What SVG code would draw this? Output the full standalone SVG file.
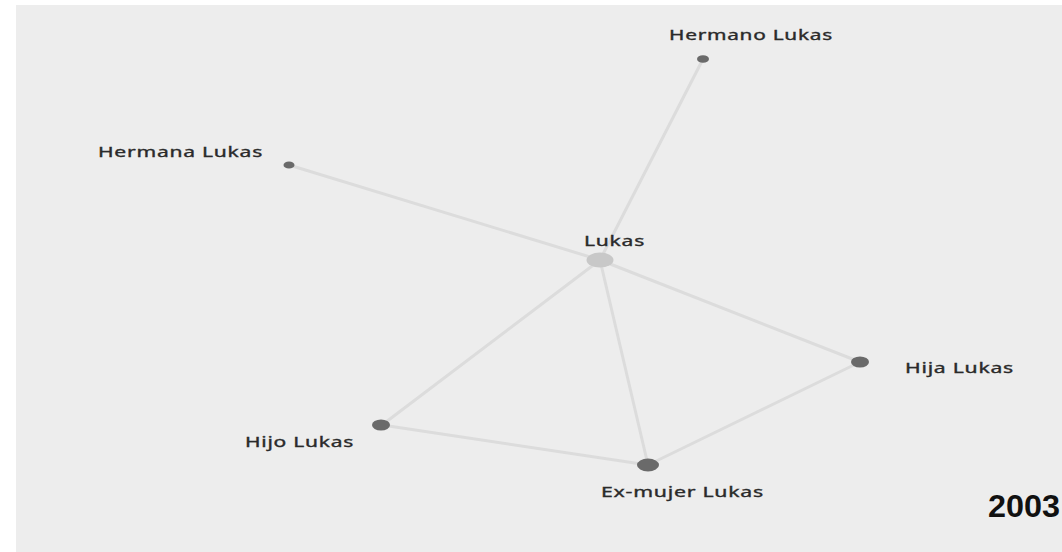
<svg xmlns="http://www.w3.org/2000/svg" width="1062" height="552" viewBox="0 0 1062 552">
<style>
.lbl{font-family:"Noto Sans","DejaVu Sans",sans-serif;font-size:14px;fill:#2a2a2a;stroke:#2a2a2a;stroke-width:0.35;letter-spacing:0.5px}
.edge{stroke:#dcdcdc;stroke-width:3;fill:none;stroke-linecap:round}
.n{fill:#6a6a6a}
.c{fill:#c8c8c8}
</style>
<rect x="0" y="0" width="1062" height="552" fill="#ffffff"/>
<rect x="16" y="5" width="1046" height="547" fill="#ededed"/>
<g id="connectors">
<line class="edge" x1="600" y1="260" x2="703" y2="59"/>
<line class="edge" x1="600" y1="260" x2="289" y2="165"/>
<line class="edge" x1="600" y1="260" x2="860" y2="362"/>
<line class="edge" x1="600" y1="260" x2="382" y2="425"/>
<line class="edge" x1="600" y1="260" x2="648" y2="465"/>
<line class="edge" x1="382" y1="425" x2="648" y2="465"/>
<line class="edge" x1="648" y1="465" x2="860" y2="362"/>
</g>
<g id="node-hermano">
<ellipse class="n" cx="703" cy="59" rx="6" ry="3.8"/>
<text class="lbl" x="669" y="40" textLength="164" lengthAdjust="spacingAndGlyphs">Hermano Lukas</text>
</g>
<g id="node-hermana">
<ellipse class="n" cx="289" cy="165" rx="5.5" ry="3.6"/>
<text class="lbl" x="98" y="157" textLength="165" lengthAdjust="spacingAndGlyphs">Hermana Lukas</text>
</g>
<g id="node-lukas">
<ellipse class="c" cx="600" cy="260" rx="13.5" ry="7.5"/>
<text class="lbl" x="584" y="246" textLength="61" lengthAdjust="spacingAndGlyphs">Lukas</text>
</g>
<g id="node-hija">
<ellipse class="n" cx="860" cy="362" rx="9" ry="5.5"/>
<text class="lbl" x="905" y="373" textLength="109" lengthAdjust="spacingAndGlyphs">Hija Lukas</text>
</g>
<g id="node-hijo">
<ellipse class="n" cx="381" cy="425" rx="9" ry="5.5"/>
<text class="lbl" x="245" y="447" textLength="109" lengthAdjust="spacingAndGlyphs">Hijo Lukas</text>
</g>
<g id="node-exmujer">
<ellipse class="n" cx="648" cy="465" rx="11" ry="6.5"/>
<text class="lbl" x="601" y="497" textLength="163" lengthAdjust="spacingAndGlyphs">Ex-mujer Lukas</text>
</g>
<text x="988" y="517" font-family="Liberation Sans, Arial, sans-serif" font-size="32" font-weight="bold" fill="#111111" textLength="72" lengthAdjust="spacingAndGlyphs">2003</text>
</svg>
